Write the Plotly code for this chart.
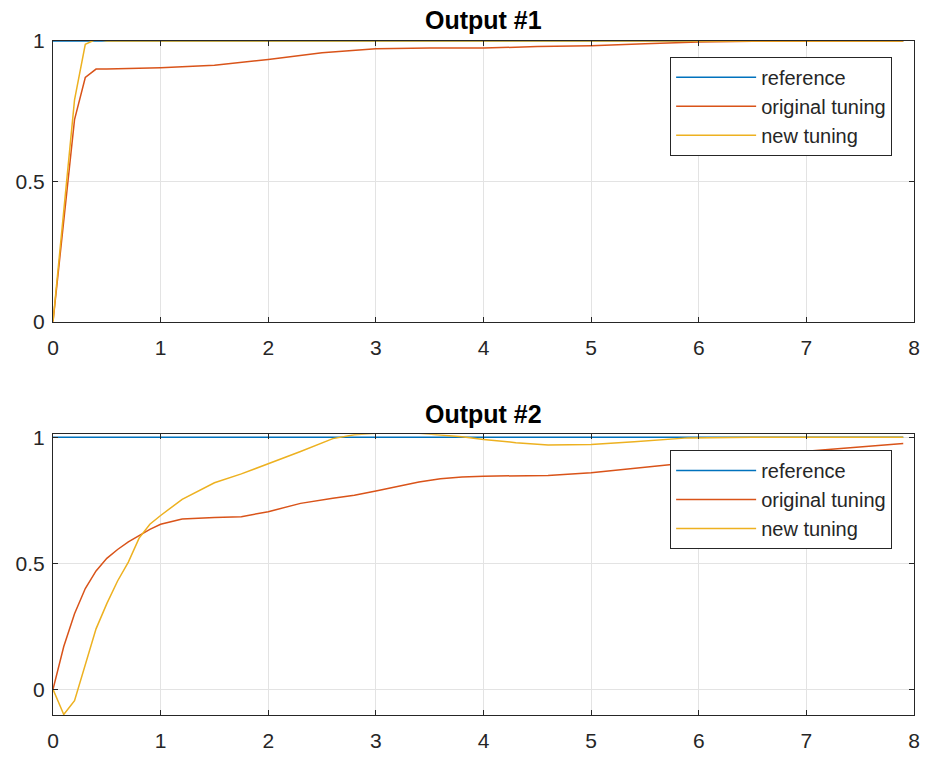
import plotly.graph_objects as go
from plotly.subplots import make_subplots

# ---- data: Output #1 ----
t1 = [0, 0.1, 0.2, 0.3, 0.4, 0.5, 1.0, 1.5, 2.0, 2.5, 3.0, 3.5, 4.0, 4.5,
      5.0, 5.5, 6.0, 6.5, 7.0, 7.5, 7.9]
ref1 = [1.0] * len(t1)
orig1 = [0, 0.37, 0.72, 0.87, 0.90, 0.90, 0.905, 0.914, 0.934, 0.958, 0.972,
         0.975, 0.975, 0.980, 0.983, 0.990, 0.996, 0.999, 1.0, 1.0, 1.0]
new1 = [0, 0.40, 0.79, 0.988, 1.006, 1.0, 1.0, 1.0, 1.0, 1.0, 1.0,
        1.0, 1.0, 1.0, 1.0, 1.0, 1.0, 1.0, 1.0, 1.0, 1.0]

# ---- data: Output #2 ----
t2 = [0, 0.1, 0.2, 0.3, 0.4, 0.5, 0.6, 0.7, 0.8, 0.9, 1.0, 1.2, 1.5, 1.75,
      2.0, 2.3, 2.6, 2.8, 3.0, 3.2, 3.4, 3.6, 3.8, 4.0, 4.3, 4.6, 5.0, 5.4,
      5.9, 6.5, 7.0, 7.5, 7.9]
ref2 = [1.0] * len(t2)
orig2 = [0, 0.17, 0.30, 0.40, 0.47, 0.52, 0.555, 0.585, 0.61, 0.635, 0.655,
         0.676, 0.682, 0.685, 0.705, 0.738, 0.758, 0.770, 0.787, 0.805, 0.823,
         0.836, 0.843, 0.846, 0.846, 0.849, 0.860, 0.878, 0.900, 0.925, 0.945,
         0.962, 0.976]
new2 = [0, -0.10, -0.045, 0.10, 0.24, 0.34, 0.43, 0.505, 0.60, 0.655, 0.69,
        0.754, 0.82, 0.855, 0.895, 0.944, 0.995, 1.010, 1.016, 1.018, 1.016,
        1.010, 1.002, 0.992, 0.979, 0.970, 0.972, 0.983, 0.998, 1.0, 1.0,
        1.0, 1.0]

x_ticks = [0, 1, 2, 3, 4, 5, 6, 7, 8]
y_ticks = [0, 0.5, 1]
y_tick_text = ["0", "0.5", "1"]
names = ["reference", "original tuning", "new tuning"]
titles = ["Output #1", "Output #2"]

colors = ["#0072BD", "#D95319", "#EDB120"]
FONT = "Liberation Sans, Arial, Helvetica, sans-serif"
AX = "#262626"

fig = make_subplots(rows=2, cols=1, vertical_spacing=0.167)

series = [(t1, [ref1, orig1, new1], 1, "legend"),
          (t2, [ref2, orig2, new2], 2, "legend2")]
for t, ys, row, leg in series:
    for i, y in enumerate(ys):
        fig.add_trace(go.Scatter(
            x=t, y=y, mode="lines", name=names[i],
            line=dict(color=colors[i], width=1.5),
            legend=leg,
        ), row=row, col=1)

axis_common = dict(
    showline=True, linecolor=AX, linewidth=1, mirror="allticks",
    ticks="inside", ticklen=5, tickcolor=AX, tickwidth=1,
    showgrid=True, gridcolor="#e3e3e3", gridwidth=1, zeroline=False,
    tickfont=dict(family=FONT, size=21, color=AX),
)
for r in (1, 2):
    fig.update_xaxes(range=[0, 8], tickvals=x_ticks, row=r, col=1,
                     ticklabelstandoff=7, **axis_common)
fig.update_yaxes(range=[0, 1], tickvals=y_ticks, ticktext=y_tick_text,
                 row=1, col=1, ticklabelstandoff=3, **axis_common)
fig.update_yaxes(range=[-0.102, 1.012], tickvals=y_ticks, ticktext=y_tick_text,
                 row=2, col=1, ticklabelstandoff=3, **axis_common)

legend_style = dict(
    bgcolor="white", bordercolor=AX, borderwidth=1,
    font=dict(family=FONT, size=20, color=AX),
    xanchor="right", yanchor="top", x=0.9746,
    itemwidth=80,
)
fig.update_layout(
    width=929, height=761,
    margin=dict(l=53, r=9, t=41, b=38),
    plot_bgcolor="white", paper_bgcolor="white",
    font=dict(family=FONT, color=AX),
    showlegend=True,
    legend=dict(y=0.9765, **legend_style),
    legend2=dict(y=0.393, **legend_style),
)
fig.update_layout(yaxis=dict(domain=[0.5836, 1.0]),
                  yaxis2=dict(domain=[0.0, 0.4164]))

for txt, ypos in zip(titles, [1.031, 0.447]):
    fig.add_annotation(text=f"<b>{txt}</b>", xref="paper", yref="paper",
                       x=0.5, y=ypos, showarrow=False, yanchor="middle",
                       font=dict(family=FONT, size=25, color="#000000"))

fig.write_html(
    "out.html",
    config={"displayModeBar": False},
    post_script="document.body.style.margin='0';"
                "document.body.style.overflow='hidden';",
)
